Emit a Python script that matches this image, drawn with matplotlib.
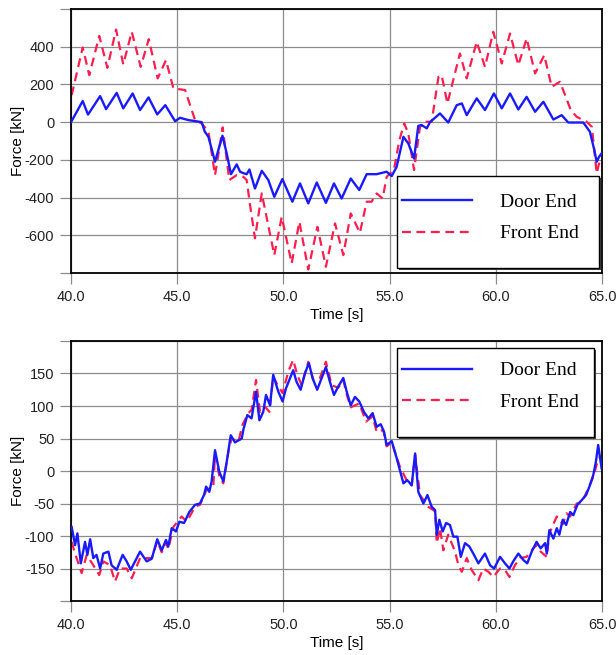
import matplotlib
matplotlib.use('Agg')
import matplotlib.pyplot as plt
from matplotlib.patches import Rectangle

# 上段: 力の時刻歴 (kN)
top_door_t = [40.0, 40.55, 40.8, 41.37, 41.65, 42.15, 42.46, 42.9, 43.25, 43.65, 44.06, 44.44, 44.9, 45.13,
              45.52, 46.15, 46.3, 46.47, 46.78, 47.13, 47.33, 47.53, 47.8, 47.96, 48.1, 48.27, 48.4, 48.66,
              48.98, 49.29, 49.57, 49.95, 50.42, 50.78, 51.17, 51.57, 52.0, 52.38, 52.74, 53.17, 53.57, 53.92,
              54.39, 54.86, 55.1, 55.33, 55.65, 55.88, 56.15, 56.35, 56.5, 56.75, 56.9, 57.37, 57.76, 58.16,
              58.4, 58.63, 59.1, 59.49, 59.91, 60.28, 60.67, 61.06, 61.45, 61.85, 62.24, 62.71, 63.1, 63.41,
              64.12, 64.43, 64.62, 64.75, 64.86, 64.98]
top_door_f = [0, 112, 40, 138, 69, 155, 73, 152, 64, 131, 41, 90, 5, 23,
              11, 0, -51, -78, -210, -72, -166, -276, -224, -263, -270, -276, -251, -352,
              -258, -307, -396, -302, -422, -325, -431, -320, -428, -325, -405, -299, -360, -276,
              -276, -263, -286, -237, -78, -113, -193, -20, -15, -33, 0, 46, -2, 90,
              99, 37, 126, 64, 152, 73, 152, 67, 134, 55, 108, 14, 37, -2,
              -2, -51, -140, -210, -184, -166]

top_front_t = [40.03, 40.55, 40.86, 41.33, 41.71, 42.12, 42.46, 42.86, 43.28, 43.66, 44.08, 44.47, 44.82,
               45.37, 45.84, 46.15, 46.47, 46.78, 47.14, 47.45, 47.8, 48.11, 48.27, 48.43, 48.66, 48.98,
               49.57, 49.92, 50.39, 50.75, 51.17, 51.6, 52.0, 52.43, 52.82, 53.17, 53.6, 53.92, 54.15,
               54.39, 54.67, 54.86, 55.2, 55.46, 55.69, 55.88, 56.15, 56.43, 56.67, 56.98, 57.3, 57.45,
               57.72, 58.31, 58.63, 59.1, 59.49, 59.88, 60.28, 60.67, 61.06, 61.45, 61.85, 62.28, 62.63,
               63.02, 63.53, 63.81, 64.28, 64.52, 64.75, 64.86, 64.98]
top_front_f = [143, 396, 249, 457, 288, 491, 306, 479, 293, 440, 232, 329, 179,
               170, 11, -7, -51, -281, -28, -307, -281, -290, -307, -440, -616, -378,
               -705, -502, -749, -528, -781, -555, -767, -537, -705, -484, -587, -422, -422,
               -378, -405, -290, -254, -95, -7, -60, -254, -25, 2, 2, 240, 249,
               99, 364, 232, 426, 293, 479, 311, 470, 302, 444, 258, 355, 187,
               214, 64, 28, 2, -25, -272, -219, -254]

# 下段
bot_door_t = [40.03, 40.19, 40.3, 40.46, 40.66, 40.77, 40.9, 41.05, 41.2, 41.37, 41.52, 41.76, 41.91, 42.15,
              42.43, 42.62, 42.81, 43.25, 43.56, 43.8, 44.06, 44.27, 44.47, 44.58, 44.74, 44.94, 45.1, 45.32,
              45.57, 45.84, 46.07, 46.26, 46.36, 46.51, 46.62, 46.78, 46.98, 47.17, 47.33, 47.52, 47.72,
              48.04, 48.11, 48.3, 48.5, 48.71, 48.87, 49.05, 49.18, 49.37, 49.52, 49.76, 49.96, 50.12,
              50.34, 50.46, 50.62, 50.81, 51.01, 51.2, 51.37, 51.59, 51.8, 52.0, 52.19, 52.38, 52.58,
              52.82, 52.98, 53.17, 53.37, 53.57, 53.79, 54.0, 54.2, 54.39, 54.58, 54.74, 54.86, 55.1,
              55.33, 55.65, 55.83, 56.04, 56.2, 56.35, 56.59, 56.78, 56.98, 57.14, 57.22, 57.34, 57.5,
              57.66, 57.84, 58.0, 58.19, 58.35, 58.55, 58.75, 58.94, 59.18, 59.49, 59.73, 59.92, 60.2,
              60.43, 60.64, 60.82, 61.06, 61.3, 61.48, 61.69, 61.92, 62.11, 62.32, 62.4, 62.52, 62.71,
              62.87, 62.99, 63.15, 63.31, 63.5, 63.65, 63.84, 64.04, 64.25, 64.43, 64.59, 64.71, 64.82,
              64.98]
bot_door_f = [-86, -114, -96, -142, -109, -129, -105, -134, -129, -150, -127, -124, -145, -152,
              -129, -139, -152, -124, -139, -135, -105, -122, -106, -116, -88, -93, -78, -80,
              -63, -52, -50, -37, -24, -32, -16, 32, -1, -16, 14, 55, 44,
              50, 63, 86, 81, 122, 78, 91, 117, 101, 148, 122, 107, 127,
              145, 155, 137, 125, 150, 166, 143, 125, 143, 160, 137, 117, 130,
              143, 122, 101, 114, 107, 91, 81, 89, 68, 72, 60, 40, 46,
              20, -19, -14, -22, 27, -32, -50, -37, -55, -60, -98, -75, -93,
              -80, -83, -101, -101, -132, -111, -116, -127, -142, -127, -145, -150, -132,
              -142, -150, -139, -127, -137, -142, -124, -109, -119, -111, -127, -91, -104,
              -88, -98, -75, -83, -63, -68, -52, -45, -37, -22, -6, 14, 40,
              4]

bot_front_t = [40.03, 40.19, 40.5, 40.74, 41.05, 41.33, 41.52, 41.84, 42.07, 42.31, 42.62, 42.86, 43.25,
               43.8, 44.06, 44.27, 44.47, 44.58, 44.82, 45.21, 45.45, 45.84, 46.07, 46.38, 46.7, 46.78,
               46.98, 47.17, 47.41, 47.56, 47.88, 48.07, 48.35, 48.5, 48.71, 48.9, 49.13, 49.34, 49.52,
               49.76, 49.96, 50.23, 50.46, 50.65, 50.86, 51.17, 51.41, 51.72, 52.0, 52.27, 52.58, 52.82,
               52.98, 53.17, 53.37, 53.57, 53.89, 54.2, 54.39, 54.7, 54.86, 55.1, 55.48, 55.83, 56.04,
               56.2, 56.43, 56.82, 57.14, 57.22, 57.37, 57.53, 57.76, 58.08, 58.24, 58.4, 58.63, 58.86,
               59.18, 59.41, 59.65, 59.88, 60.2, 60.43, 60.64, 60.9, 61.14, 61.45, 61.76, 61.92, 62.11,
               62.4, 62.52, 62.87, 63.15, 63.33, 63.5, 63.81, 64.04, 64.28, 64.59, 64.75, 64.91]
bot_front_f = [-109, -127, -157, -129, -145, -160, -139, -145, -170, -150, -150, -165, -134,
               -134, -108, -125, -110, -120, -86, -70, -78, -55, -52, -29, -24, 25,
               -7, -19, 30, 50, 45, 71, 89, 94, 140, 91, 99, 91, 145,
               130, 120, 153, 171, 148, 132, 168, 140, 143, 168, 132, 128, 140,
               118, 98, 101, 104, 76, 84, 60, 63, 38, 44, 7, -16, -22,
               25, -37, -55, -62, -111, -88, -122, -98, -124, -145, -155, -134, -152,
               -168, -150, -155, -163, -150, -152, -163, -145, -134, -132, -119, -114, -124,
               -132, -96, -70, -82, -65, -70, -50, -48, -32, -9, 10, 22]

door_color = '#1a1aff'
front_color = '#ff1f4f'

plt.rcParams['font.family'] = ['Liberation Sans', 'DejaVu Sans']

fig = plt.figure(figsize=(6.16, 6.55), dpi=100)
ax1 = fig.add_axes([0.1153, 0.5832, 0.862, 0.4031])
ax2 = fig.add_axes([0.1153, 0.0824, 0.862, 0.3970])


def style_axis(ax, ylim, yticks, ylabels, legend_box, legend_anchor):
    ax.set_xlim(40, 65)
    ax.set_ylim(*ylim)
    ax.set_xticks([40, 45, 50, 55, 60, 65])
    ax.set_xticklabels(['40.0', '45.0', '50.0', '55.0', '60.0', '65.0'])
    ax.set_yticks(yticks)
    ax.set_yticklabels(ylabels)
    ax.grid(True, color='#8c8c8c', linewidth=0.9)
    ax.set_axisbelow(True)
    ax.tick_params(direction='out', length=8, width=0.9, color='#8c8c8c',
                   labelsize=10.5, labelcolor='#222222', pad=4)
    for s in ax.spines.values():
        s.set_color('black')
        s.set_linewidth(1.3)
    ax.set_xlabel('Time [s]', fontsize=11, labelpad=3)
    ax.set_ylabel('Force [kN]', fontsize=11, labelpad=0)

    x0, y0, w, h = legend_box
    ax.add_patch(Rectangle((x0 + 0.004, y0 - 0.008), w, h, transform=ax.transAxes,
                           facecolor='#444444', edgecolor='none', zorder=5, clip_on=False))
    ax.add_patch(Rectangle((x0, y0), w, h, transform=ax.transAxes,
                           facecolor='white', edgecolor='black', linewidth=1.0, zorder=6, clip_on=False))
    leg = ax.legend(loc='upper left', bbox_to_anchor=legend_anchor, frameon=False,
                    prop={'family': 'Liberation Serif', 'size': 14},
                    handlelength=3.6, handletextpad=1.4, labelspacing=0.72,
                    borderaxespad=0, borderpad=0)
    leg.set_zorder(7)


ax1.plot(top_door_t, top_door_f, color=door_color, linewidth=1.7, label='Door End', zorder=3,
         solid_joinstyle='round')
ax1.plot(top_front_t, top_front_f, color=front_color, linewidth=1.6, dashes=(4, 2.5),
         label='Front End', zorder=2)
style_axis(ax1, (-800, 600), [-800, -600, -400, -200, 0, 200, 400, 600],
           ['', '-600', '-400', '-200', '0', '200', '400', ''],
           (0.614, 0.019, 0.380, 0.348), (0.624, 0.302))

ax2.plot(bot_door_t, bot_door_f, color=door_color, linewidth=1.7, label='Door End', zorder=3,
         solid_joinstyle='round')
ax2.plot(bot_front_t, bot_front_f, color=front_color, linewidth=1.6, dashes=(4, 2.5),
         label='Front End', zorder=2)
style_axis(ax2, (-200, 200), [-200, -150, -100, -50, 0, 50, 100, 150, 200],
           ['', '-150', '-100', '-50', '0', '50', '100', '150', ''],
           (0.613, 0.631, 0.372, 0.342), (0.624, 0.92))

fig.savefig('out.png', dpi=100)
